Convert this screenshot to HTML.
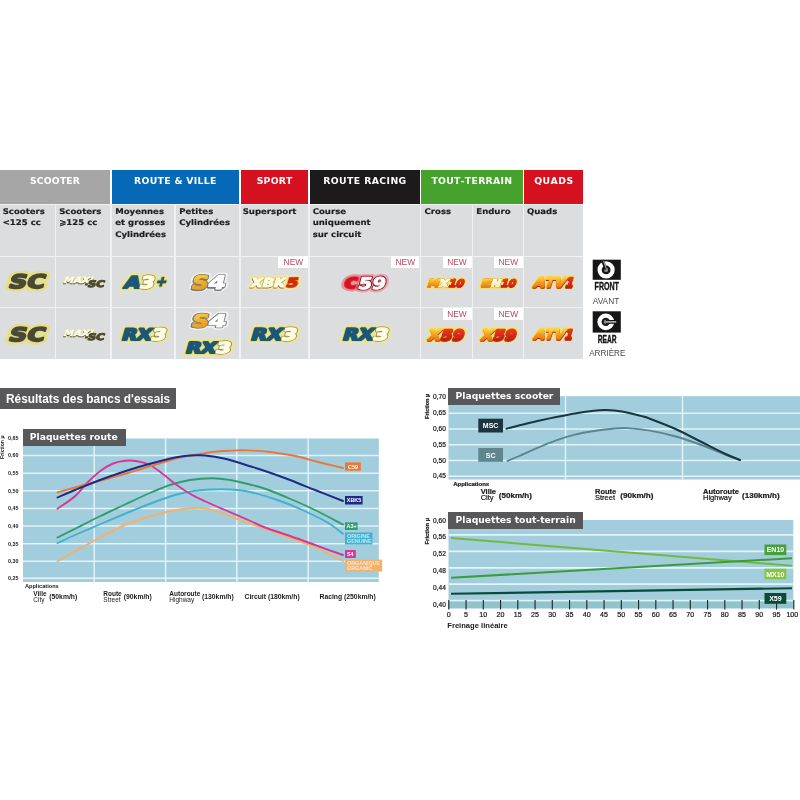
<!DOCTYPE html>
<html lang="fr">
<head>
<meta charset="utf-8">
<title>Plaquettes de frein - gamme</title>
<style>
html,body{margin:0;padding:0;background:#fff;}
body{width:800px;height:800px;position:relative;overflow:hidden;font-family:"Liberation Sans",sans-serif;}
.abs{position:absolute;}
/* table */
.hd{position:absolute;top:170px;height:33.5px;color:#fff;font:bold 9.3px/1 "DejaVu Sans","Liberation Sans",sans-serif;text-align:center;}
.hd span{position:absolute;left:0;right:0;top:6px;font-kerning:none;white-space:nowrap;}
.sub{position:absolute;top:204.5px;height:51px;background:#dcdddf;color:#1e1e1e;font:bold 8.55px/12.5px "DejaVu Sans","Liberation Sans",sans-serif;}
.sub span{position:absolute;left:2.7px;top:1.15px;white-space:nowrap;text-rendering:geometricPrecision;transform:scaleY(0.912);transform-origin:0 0;-webkit-text-stroke:0.2px #1e1e1e;}
.c1{position:absolute;top:256.5px;height:50.5px;background:#dcdddf;}
.c2{position:absolute;top:308px;height:50.5px;background:#dcdddf;}
.new{position:absolute;background:#fff;color:#bd4563;font:8.4px/12.9px "Liberation Sans",sans-serif;text-align:center;height:12.2px;}
.lg{position:absolute;white-space:nowrap;font-family:"DejaVu Sans","Liberation Sans",sans-serif;font-weight:bold;font-style:italic;line-height:1;transform-origin:0 0;}

.sc{color:#4b4a36;text-shadow:0 0 2px #efe15a,0 0 3px #efe15a,0 0 4px #efe15a,1px 0 2px #efe15a,-1px 0 2px #efe15a,0 1px 2px #efe15a,0 -1px 2px #efe15a;-webkit-text-stroke:0.6px #4b4a36;transform:scaleX(1.12);}
.mx{color:#fff;text-shadow:0.7px 0.9px 0 #b9b35a,0 0 2px #f4efb0;transform:scaleX(1.15);}
.mx2{color:#4b4a36;text-shadow:0 0 1.5px #e9e08a;-webkit-text-stroke:0.3px #4b4a36;transform:scaleX(1.15);}
.a3 .b,.rx3 .b{color:#1c5779;-webkit-text-stroke:0.5px #1c5779;}
.a3 .c,.rx3 .c{color:#fffbe6;-webkit-text-stroke:0.5px #fffbe6;}
.a3,.rx3{text-shadow:0 0 1px #e2d23a,0 0 1.5px #e2d23a,0 0 2px #e8dc5a,0 0 3px #f1e88a,0.8px 0.8px 1px #d9c93a,-0.8px 0.8px 1px #d9c93a;transform:scaleX(1.1);}
.s4 .o{color:#eca62c;}
.s4 .wh{color:#fff;}
.s4{text-shadow:-0.8px 1px 0.5px #8e8e90,-1.2px 1.2px 1.5px #a0a0a2,0 0 2px #fff,0 0 3px #fff;-webkit-text-stroke:0.4px;transform:scaleX(1.1);}
.xbk .c{color:#fffbe0;}
.xbk .r{color:#d93a12;}
.xbk{text-shadow:0 0 1px #e9a21e,0.6px 0.8px 0.5px #d98a14,-0.6px 0.8px 0.5px #e9a21e,0 0 2px #f3cf5a,0 0 3px #f6e08a;transform:scaleX(1.12);}
.c59 .r{color:#d3111f;}
.c59 .wh{color:#fff;}
.c59{text-shadow:0 0 1px #d3202c,0 0 2px #d3202c,0 0 3px #e2404c,0 0 4px #ee7078,0 0 5px #f0a0a4;-webkit-text-stroke:0.3px;transform:scaleX(1.1);}
.mx10 .o{color:#ee8a1a;}
.mx10 .y{color:#fff3a0;}
.mx10 .r{color:#d8261a;}
.mx10{text-shadow:0.6px 0.8px 0.5px #b0400e,0 0 1.5px #f3d24a,0 0 2.5px #f4e07a;-webkit-text-stroke:0.4px;transform:scaleX(1.15);}
.atv{color:#f0961c;text-shadow:0.7px 0.9px 0.3px #a8280e,0 -0.6px 0.5px #f8e24a,0 0 2px #f4d86a;-webkit-text-stroke:0.4px #f0961c;transform:scaleX(1.12);}
.x59 .o{color:#f2a81e;}
.x59 .r{color:#d8261a;}
.x59{text-shadow:0.6px 0.8px 0.4px #b8500e,0 0 1.5px #f6dc3a,0 0 2.5px #f6e46a,0 0 3px #f6e88a;-webkit-text-stroke:0.4px;transform:scaleX(1.12);}
.bn{background:#58585a;color:#fff;font:bold 9.2px/16.6px "DejaVu Sans","Liberation Sans",sans-serif;}
.bn span{position:absolute;left:7.6px;top:0;white-space:nowrap;}
</style>
</head>
<body>
<!-- TABLE HEADER -->
<div class="hd" style="left:0;width:110px;background:#a6a6a6"><span style="letter-spacing:0.15px;text-indent:0.15px">SCOOTER</span></div>
<div class="hd" style="left:111.5px;width:127.5px;background:#0669b8"><span style="letter-spacing:0.3px;text-indent:0.3px">ROUTE &amp; VILLE</span></div>
<div class="hd" style="left:240.7px;width:67.8px;background:#d6111f"><span style="letter-spacing:0.2px;text-indent:0.2px">SPORT</span></div>
<div class="hd" style="left:310px;width:109.5px;background:#1c1a1b"><span style="letter-spacing:0.4px;text-indent:0.4px">ROUTE RACING</span></div>
<div class="hd" style="left:421px;width:101.5px;background:#46a22d"><span style="letter-spacing:0.3px;text-indent:0.3px">TOUT-TERRAIN</span></div>
<div class="hd" style="left:524.2px;width:59px;background:#d6111f"><span style="letter-spacing:0.5px;text-indent:0.5px">QUADS</span></div>
<div class="abs" style="left:0;top:204px;width:583.2px;height:155px;background:#f1f1f3"></div>
<!-- SUB HEADER -->
<div class="sub" style="left:0;width:54.7px"></div>
<div class="sub" style="left:55.8px;width:54.7px"></div>
<div class="sub" style="left:111.7px;width:62.8px"></div>
<div class="sub" style="left:175.6px;width:63.4px"></div>
<div class="sub" style="left:240.7px;width:67.8px"></div>
<div class="sub" style="left:310px;width:109.5px"></div>
<div class="sub" style="left:421px;width:50.5px"></div>
<div class="sub" style="left:472.6px;width:50.2px"></div>
<div class="sub" style="left:524.2px;width:59px"></div>
<div class="c1" style="left:0px;width:54.7px"></div>
<div class="c1" style="left:55.8px;width:54.7px"></div>
<div class="c1" style="left:111.7px;width:62.8px"></div>
<div class="c1" style="left:175.6px;width:63.4px"></div>
<div class="c1" style="left:240.7px;width:67.8px"></div>
<div class="c1" style="left:310px;width:109.5px"></div>
<div class="c1" style="left:421px;width:50.5px"></div>
<div class="c1" style="left:472.6px;width:50.2px"></div>
<div class="c1" style="left:524.2px;width:59px"></div>
<div class="c2" style="left:0px;width:54.7px"></div>
<div class="c2" style="left:55.8px;width:54.7px"></div>
<div class="c2" style="left:111.7px;width:62.8px"></div>
<div class="c2" style="left:175.6px;width:63.4px"></div>
<div class="c2" style="left:240.7px;width:67.8px"></div>
<div class="c2" style="left:310px;width:109.5px"></div>
<div class="c2" style="left:421px;width:50.5px"></div>
<div class="c2" style="left:472.6px;width:50.2px"></div>
<div class="c2" style="left:524.2px;width:59px"></div>
<div class="new" style="left:278.3px;top:256.3px;width:30.2px">NEW</div>
<div class="new" style="left:391.2px;top:256.3px;width:28.3px">NEW</div>
<div class="new" style="left:442.5px;top:256.3px;width:29px">NEW</div>
<div class="new" style="left:493.8px;top:256.3px;width:29px">NEW</div>
<div class="new" style="left:442.5px;top:307.5px;width:29px">NEW</div>
<div class="new" style="left:493.8px;top:307.5px;width:29px">NEW</div>

<!--SUBTXT-->
<svg class="abs" style="left:0;top:204px;text-rendering:geometricPrecision" width="584" height="52" viewBox="0 204 584 52">
<g font-family="DejaVu Sans, Liberation Sans, sans-serif" font-weight="bold" font-size="8.55" fill="#1e1e1e" stroke="#1e1e1e" stroke-width="0.2">
<text transform="translate(2.7,214.1) scale(1,0.912)">Scooters</text>
<text transform="translate(2.7,225.4) scale(1,0.912)">&lt;125 cc</text>
<text transform="translate(59.2,214.1) scale(1,0.912)">Scooters</text>
<text transform="translate(59.2,225.4) scale(1,0.912)">⩾125 cc</text>
<text transform="translate(115.2,214.1) scale(1,0.912)">Moyennes</text>
<text transform="translate(115.2,225.4) scale(1,0.912)">et grosses</text>
<text transform="translate(115.2,236.7) scale(1,0.912)">Cylindrées</text>
<text transform="translate(179.2,214.1) scale(1,0.912)">Petites</text>
<text transform="translate(179.2,225.4) scale(1,0.912)">Cylindrées</text>
<text transform="translate(242.7,214.1) scale(1,0.912)">Supersport</text>
<text transform="translate(312.7,214.1) scale(1,0.912)">Course</text>
<text transform="translate(312.7,225.4) scale(1,0.912)">uniquement</text>
<text transform="translate(312.7,236.7) scale(1,0.912)">sur circuit</text>
<text transform="translate(424.6,214.1) scale(1,0.912)">Cross</text>
<text transform="translate(476.3,214.1) scale(1,0.912)">Enduro</text>
<text transform="translate(526.9,214.1) scale(1,0.912)">Quads</text>
</g>
</svg>
<!--/SUBTXT-->
<!--ICONS-->
<svg class="abs" style="left:584px;top:256px" width="60" height="110" viewBox="584 256 60 110">
<rect x="592.7" y="259.7" width="28.1" height="20.1" fill="#161616"/>
<circle cx="606.1" cy="269.9" r="6.5" fill="none" stroke="#fff" stroke-width="4.2"/>
<circle cx="606.1" cy="269.9" r="2.1" fill="#8e8e8e"/>
<line x1="606" y1="269.5" x2="602.3" y2="260" stroke="#161616" stroke-width="3"/>
<line x1="606.6" y1="269.3" x2="603.3" y2="260.6" stroke="#c4c4c4" stroke-width="0.9"/>
<rect x="592.7" y="311.3" width="28.1" height="21.3" fill="#161616"/>
<circle cx="605.8" cy="321.9" r="6.3" fill="none" stroke="#fff" stroke-width="4.2"/>
<circle cx="605.8" cy="321.9" r="2.1" fill="#8e8e8e"/>
<line x1="605.8" y1="321.9" x2="617.5" y2="321.9" stroke="#161616" stroke-width="3.8"/>
<line x1="605.8" y1="321.9" x2="616.2" y2="321.9" stroke="#e6e6e6" stroke-width="1.2"/>
<g font-family="Liberation Sans, sans-serif" fill="#161616">
<text x="594.6" y="289.9" font-size="10.6" font-weight="bold" textLength="24.2" lengthAdjust="spacingAndGlyphs" stroke="#161616" stroke-width="0.4">FRONT</text>
<text x="597.7" y="342.6" font-size="10.6" font-weight="bold" textLength="18.8" lengthAdjust="spacingAndGlyphs" stroke="#161616" stroke-width="0.4">REAR</text>
<text x="592.7" y="303.6" font-size="8.5" fill="#4a4a4a" textLength="26.6" lengthAdjust="spacingAndGlyphs">AVANT</text>
<text x="589.2" y="355.5" font-size="9" fill="#4a4a4a" textLength="36.2" lengthAdjust="spacingAndGlyphs">ARRIÈRE</text>
</g>
</svg>
<!--/ICONS-->
<!--LOGOSVG-->
<svg class="abs" style="left:0;top:256px" width="584" height="104" viewBox="0 256 584 104">
<defs><linearGradient id="gO" x1="0" y1="0" x2="0" y2="1"><stop offset="0.15" stop-color="#fbd648"/><stop offset="0.55" stop-color="#f2981e"/><stop offset="0.95" stop-color="#e26a18"/></linearGradient> <linearGradient id="gS" x1="0" y1="0" x2="0.3" y2="1"><stop offset="0.1" stop-color="#f8d84c"/><stop offset="0.6" stop-color="#f1ad2a"/><stop offset="1" stop-color="#e89a20"/></linearGradient><linearGradient id="gR" x1="0" y1="0" x2="0" y2="1"><stop offset="0.2" stop-color="#e93a20"/><stop offset="0.9" stop-color="#c4161a"/></linearGradient><linearGradient id="gY" x1="0" y1="0" x2="0" y2="1"><stop offset="0.2" stop-color="#ffffff"/><stop offset="0.9" stop-color="#ffec90"/></linearGradient></defs>
<g transform="translate(6.60,289.40) skewX(-16)" font-family="DejaVu Sans, Liberation Sans, sans-serif" font-weight="bold" font-size="18.66" stroke-linejoin="round">
<g opacity="0.8"><text x="0.95" y="-0.95" textLength="17.83" lengthAdjust="spacingAndGlyphs" fill="#e9e074" stroke="#e9e074" stroke-width="7">S</text><text x="18.78" y="-0.95" textLength="17.83" lengthAdjust="spacingAndGlyphs" fill="#e9e074" stroke="#e9e074" stroke-width="7">C</text>
</g><text x="0.95" y="-0.95" textLength="17.83" lengthAdjust="spacingAndGlyphs" fill="#4a4935" stroke="#4a4935" stroke-width="1.9">S</text><text x="18.78" y="-0.95" textLength="17.83" lengthAdjust="spacingAndGlyphs" fill="#4a4935" stroke="#4a4935" stroke-width="1.9">C</text>
</g>
<g transform="translate(62.30,283.20) skewX(-20)" font-family="DejaVu Sans, Liberation Sans, sans-serif" font-weight="bold" font-size="8.37" stroke-linejoin="round">
<g opacity="0.55"><text x="0.25" y="-0.25" textLength="30.00" lengthAdjust="spacingAndGlyphs" fill="#e8e6a6" stroke="#e8e6a6" stroke-width="2.4">MAXI</text>
</g><g transform="translate(0.4,1.2)"><text x="0.25" y="-0.25" textLength="30.00" lengthAdjust="spacingAndGlyphs" fill="#4e4e2a" stroke="#4e4e2a" stroke-width="0.6">MAXI</text>
</g><text x="0.25" y="-0.25" textLength="30.00" lengthAdjust="spacingAndGlyphs" fill="#ffffea" stroke="#ffffea" stroke-width="0.5">MAXI</text>
</g>
<g transform="translate(83.60,287.80) skewX(-16)" font-family="DejaVu Sans, Liberation Sans, sans-serif" font-weight="bold" font-size="9.05" stroke-linejoin="round">
<g opacity="0.6"><text x="0.50" y="-0.50" textLength="2.71" lengthAdjust="spacingAndGlyphs" fill="#e9e4a0" stroke="#e9e4a0" stroke-width="1.9">-</text><text x="3.21" y="-0.50" textLength="16.91" lengthAdjust="spacingAndGlyphs" fill="#e9e4a0" stroke="#e9e4a0" stroke-width="1.9">SC</text>
</g><text x="0.50" y="-0.50" textLength="2.71" lengthAdjust="spacingAndGlyphs" fill="#4a4935" stroke="#4a4935" stroke-width="1.0">-</text><text x="3.21" y="-0.50" textLength="16.91" lengthAdjust="spacingAndGlyphs" fill="#4a4935" stroke="#4a4935" stroke-width="1.0">SC</text>
</g>
<g transform="translate(6.60,342.10) skewX(-16)" font-family="DejaVu Sans, Liberation Sans, sans-serif" font-weight="bold" font-size="18.66" stroke-linejoin="round">
<g opacity="0.8"><text x="0.95" y="-0.95" textLength="17.83" lengthAdjust="spacingAndGlyphs" fill="#e9e074" stroke="#e9e074" stroke-width="7">S</text><text x="18.78" y="-0.95" textLength="17.83" lengthAdjust="spacingAndGlyphs" fill="#e9e074" stroke="#e9e074" stroke-width="7">C</text>
</g><text x="0.95" y="-0.95" textLength="17.83" lengthAdjust="spacingAndGlyphs" fill="#4a4935" stroke="#4a4935" stroke-width="1.9">S</text><text x="18.78" y="-0.95" textLength="17.83" lengthAdjust="spacingAndGlyphs" fill="#4a4935" stroke="#4a4935" stroke-width="1.9">C</text>
</g>
<g transform="translate(62.30,335.90) skewX(-20)" font-family="DejaVu Sans, Liberation Sans, sans-serif" font-weight="bold" font-size="8.37" stroke-linejoin="round">
<g opacity="0.55"><text x="0.25" y="-0.25" textLength="30.00" lengthAdjust="spacingAndGlyphs" fill="#e8e6a6" stroke="#e8e6a6" stroke-width="2.4">MAXI</text>
</g><g transform="translate(0.4,1.2)"><text x="0.25" y="-0.25" textLength="30.00" lengthAdjust="spacingAndGlyphs" fill="#4e4e2a" stroke="#4e4e2a" stroke-width="0.6">MAXI</text>
</g><text x="0.25" y="-0.25" textLength="30.00" lengthAdjust="spacingAndGlyphs" fill="#ffffea" stroke="#ffffea" stroke-width="0.5">MAXI</text>
</g>
<g transform="translate(83.60,340.50) skewX(-16)" font-family="DejaVu Sans, Liberation Sans, sans-serif" font-weight="bold" font-size="9.05" stroke-linejoin="round">
<g opacity="0.6"><text x="0.50" y="-0.50" textLength="2.71" lengthAdjust="spacingAndGlyphs" fill="#e9e4a0" stroke="#e9e4a0" stroke-width="1.9">-</text><text x="3.21" y="-0.50" textLength="16.91" lengthAdjust="spacingAndGlyphs" fill="#e9e4a0" stroke="#e9e4a0" stroke-width="1.9">SC</text>
</g><text x="0.50" y="-0.50" textLength="2.71" lengthAdjust="spacingAndGlyphs" fill="#4a4935" stroke="#4a4935" stroke-width="1.0">-</text><text x="3.21" y="-0.50" textLength="16.91" lengthAdjust="spacingAndGlyphs" fill="#4a4935" stroke="#4a4935" stroke-width="1.0">SC</text>
</g>
<g transform="translate(121.90,289.40) skewX(-16)" font-family="DejaVu Sans, Liberation Sans, sans-serif" font-weight="bold" font-size="16.19" stroke-linejoin="round">
<g opacity="0.75"><text x="1.00" y="-1.00" textLength="15.73" lengthAdjust="spacingAndGlyphs" fill="#ece69a" stroke="#ece69a" stroke-width="7">A</text><text x="16.73" y="-1.00" textLength="14.01" lengthAdjust="spacingAndGlyphs" fill="#ece69a" stroke="#ece69a" stroke-width="7">3</text>
</g><text x="1.00" y="-1.00" textLength="15.73" lengthAdjust="spacingAndGlyphs" fill="#e6da58" stroke="#e6da58" stroke-width="3.4">A</text><text x="16.73" y="-1.00" textLength="14.01" lengthAdjust="spacingAndGlyphs" fill="#9a9038" stroke="#9a9038" stroke-width="3.0">3</text>
<text x="1.00" y="-1.00" textLength="15.73" lengthAdjust="spacingAndGlyphs" fill="#1c5678" stroke="#1c5678" stroke-width="2.0">A</text><text x="16.73" y="-1.00" textLength="14.01" lengthAdjust="spacingAndGlyphs" fill="#fffbe4" stroke="#fffbe4" stroke-width="1.6">3</text>
</g>
<g transform="translate(154.50,286.80) skewX(-16)" font-family="DejaVu Sans, Liberation Sans, sans-serif" font-weight="bold" font-size="13.44" stroke-linejoin="round">
<g opacity="0.7"><text x="0.60" y="-0.60" textLength="10.65" lengthAdjust="spacingAndGlyphs" fill="#f0e890" stroke="#f0e890" stroke-width="4.5">+</text>
</g><text x="0.60" y="-0.60" textLength="10.65" lengthAdjust="spacingAndGlyphs" fill="#dccb34" stroke="#dccb34" stroke-width="2.8">+</text>
<text x="0.60" y="-0.60" textLength="10.65" lengthAdjust="spacingAndGlyphs" fill="#1c5678" stroke="#1c5678" stroke-width="1.2">+</text>
</g>
<g transform="translate(189.80,289.40) skewX(-14)" font-family="DejaVu Sans, Liberation Sans, sans-serif" font-weight="bold" font-size="18.52" stroke-linejoin="round">
<g opacity="0.6"><text x="0.55" y="-0.55" textLength="16.61" lengthAdjust="spacingAndGlyphs" fill="#ffffff" stroke="#ffffff" stroke-width="5.5">S</text><text x="17.16" y="-0.55" textLength="17.45" lengthAdjust="spacingAndGlyphs" fill="#ffffff" stroke="#ffffff" stroke-width="5.5">4</text>
</g><text x="0.55" y="-0.55" textLength="16.61" lengthAdjust="spacingAndGlyphs" fill="#8a7a3a" stroke="#8a7a3a" stroke-width="2.6">S</text><text x="17.16" y="-0.55" textLength="17.45" lengthAdjust="spacingAndGlyphs" fill="#8a8c90" stroke="#8a8c90" stroke-width="2.6">4</text>
<g transform="translate(-0.4,0.7)"><text x="0.55" y="-0.55" textLength="16.61" lengthAdjust="spacingAndGlyphs" fill="#77797c" stroke="#77797c" stroke-width="2.2">S</text><text x="17.16" y="-0.55" textLength="17.45" lengthAdjust="spacingAndGlyphs" fill="#77797c" stroke="#77797c" stroke-width="2.2">4</text>
</g><text x="0.55" y="-0.55" textLength="16.61" lengthAdjust="spacingAndGlyphs" fill="url(#gS)" stroke="url(#gS)" stroke-width="1.1">S</text><text x="17.16" y="-0.55" textLength="17.45" lengthAdjust="spacingAndGlyphs" fill="#ffffff" stroke="#ffffff" stroke-width="1.1">4</text>
</g>
<g transform="translate(249.30,287.50) skewX(-16)" font-family="DejaVu Sans, Liberation Sans, sans-serif" font-weight="bold" font-size="12.48" stroke-linejoin="round">
<g opacity="0.85"><text x="0.60" y="-0.60" textLength="34.05" lengthAdjust="spacingAndGlyphs" fill="#f5e9a6" stroke="#f5e9a6" stroke-width="5.5">XBK</text>
</g><text x="0.60" y="-0.60" textLength="34.05" lengthAdjust="spacingAndGlyphs" fill="#d9b84a" stroke="#d9b84a" stroke-width="2.2">XBK</text>
<g transform="translate(-0.35,0.6)"><text x="0.60" y="-0.60" textLength="34.05" lengthAdjust="spacingAndGlyphs" fill="#8f7a2c" stroke="#8f7a2c" stroke-width="1.2">XBK</text>
</g><text x="0.60" y="-0.60" textLength="34.05" lengthAdjust="spacingAndGlyphs" fill="#fffbe2" stroke="#fffbe2" stroke-width="1.2">XBK</text>
</g>
<g transform="translate(284.80,287.50) skewX(-16)" font-family="DejaVu Sans, Liberation Sans, sans-serif" font-weight="bold" font-size="12.48" stroke-linejoin="round">
<g opacity="0.85"><text x="0.60" y="-0.60" textLength="11.65" lengthAdjust="spacingAndGlyphs" fill="#f5e9a6" stroke="#f5e9a6" stroke-width="5.5">5</text>
</g><text x="0.60" y="-0.60" textLength="11.65" lengthAdjust="spacingAndGlyphs" fill="#f0a23a" stroke="#f0a23a" stroke-width="2.4">5</text>
<text x="0.60" y="-0.60" textLength="11.65" lengthAdjust="spacingAndGlyphs" fill="#cf2a0e" stroke="#cf2a0e" stroke-width="1.2">5</text>
</g>
<g transform="translate(342.80,288.80) skewX(-14)" font-family="DejaVu Sans, Liberation Sans, sans-serif" font-weight="bold" font-size="14.13" stroke-linejoin="round">
<g opacity="0.55"><text x="0.65" y="-0.65" textLength="13.51" lengthAdjust="spacingAndGlyphs" fill="#ea5a66" stroke="#ea5a66" stroke-width="6.5">C</text>
</g><text x="0.65" y="-0.65" textLength="13.51" lengthAdjust="spacingAndGlyphs" fill="#e3353f" stroke="#e3353f" stroke-width="2.6">C</text>
<text x="0.65" y="-0.65" textLength="13.51" lengthAdjust="spacingAndGlyphs" fill="#d31422" stroke="#d31422" stroke-width="1.3">C</text>
</g>
<g transform="translate(356.80,289.80) skewX(-14)" font-family="DejaVu Sans, Liberation Sans, sans-serif" font-weight="bold" font-size="16.32" stroke-linejoin="round">
<g opacity="0.55"><text x="0.45" y="-0.45" textLength="27.11" lengthAdjust="spacingAndGlyphs" fill="#f0808a" stroke="#f0808a" stroke-width="6.5">59</text>
</g><text x="0.45" y="-0.45" textLength="27.11" lengthAdjust="spacingAndGlyphs" fill="#9a1726" stroke="#9a1726" stroke-width="2.7">59</text>
<text x="0.45" y="-0.45" textLength="27.11" lengthAdjust="spacingAndGlyphs" fill="#ffffff" stroke="#ffffff" stroke-width="0.9">59</text>
</g>
<g transform="translate(426.20,287.20) skewX(-18)" font-family="DejaVu Sans, Liberation Sans, sans-serif" font-weight="bold" font-size="10.49" stroke-linejoin="round">
<g opacity="0.6"><text x="0.57" y="-0.57" textLength="11.33" lengthAdjust="spacingAndGlyphs" fill="#f6e47a" stroke="#f6e47a" stroke-width="4.8">M</text><text x="11.91" y="-0.57" textLength="9.44" lengthAdjust="spacingAndGlyphs" fill="#f6e47a" stroke="#f6e47a" stroke-width="4.8">X</text><text x="21.35" y="-0.57" textLength="15.11" lengthAdjust="spacingAndGlyphs" fill="#f6e47a" stroke="#f6e47a" stroke-width="4.8">10</text>
</g><text x="0.57" y="-0.57" textLength="11.33" lengthAdjust="spacingAndGlyphs" fill="#f4d648" stroke="#f4d648" stroke-width="2.6">M</text><text x="11.91" y="-0.57" textLength="9.44" lengthAdjust="spacingAndGlyphs" fill="#f4d648" stroke="#f4d648" stroke-width="2.6">X</text><text x="21.35" y="-0.57" textLength="15.11" lengthAdjust="spacingAndGlyphs" fill="#f4d648" stroke="#f4d648" stroke-width="2.6">10</text>
<g transform="translate(0.4,0.7)"><text x="0.57" y="-0.57" textLength="11.33" lengthAdjust="spacingAndGlyphs" fill="#a33a0e" stroke="#a33a0e" stroke-width="1.15">M</text><text x="11.91" y="-0.57" textLength="9.44" lengthAdjust="spacingAndGlyphs" fill="#a33a0e" stroke="#a33a0e" stroke-width="1.15">X</text><text x="21.35" y="-0.57" textLength="15.11" lengthAdjust="spacingAndGlyphs" fill="#a33a0e" stroke="#a33a0e" stroke-width="1.15">10</text>
</g><text x="0.57" y="-0.57" textLength="11.33" lengthAdjust="spacingAndGlyphs" fill="url(#gO)" stroke="url(#gO)" stroke-width="1.15">M</text><text x="11.91" y="-0.57" textLength="9.44" lengthAdjust="spacingAndGlyphs" fill="url(#gY)" stroke="url(#gY)" stroke-width="1.15">X</text><text x="21.35" y="-0.57" textLength="15.11" lengthAdjust="spacingAndGlyphs" fill="url(#gR)" stroke="url(#gR)" stroke-width="1.15">10</text>
</g>
<g transform="translate(479.50,287.20) skewX(-18)" font-family="DejaVu Sans, Liberation Sans, sans-serif" font-weight="bold" font-size="10.49" stroke-linejoin="round">
<g opacity="0.6"><text x="0.57" y="-0.57" textLength="10.12" lengthAdjust="spacingAndGlyphs" fill="#f6e47a" stroke="#f6e47a" stroke-width="4.8">E</text><text x="10.69" y="-0.57" textLength="9.66" lengthAdjust="spacingAndGlyphs" fill="#f6e47a" stroke="#f6e47a" stroke-width="4.8">N</text><text x="20.35" y="-0.57" textLength="14.72" lengthAdjust="spacingAndGlyphs" fill="#f6e47a" stroke="#f6e47a" stroke-width="4.8">10</text>
</g><text x="0.57" y="-0.57" textLength="10.12" lengthAdjust="spacingAndGlyphs" fill="#f4d648" stroke="#f4d648" stroke-width="2.6">E</text><text x="10.69" y="-0.57" textLength="9.66" lengthAdjust="spacingAndGlyphs" fill="#f4d648" stroke="#f4d648" stroke-width="2.6">N</text><text x="20.35" y="-0.57" textLength="14.72" lengthAdjust="spacingAndGlyphs" fill="#f4d648" stroke="#f4d648" stroke-width="2.6">10</text>
<g transform="translate(0.4,0.7)"><text x="0.57" y="-0.57" textLength="10.12" lengthAdjust="spacingAndGlyphs" fill="#a33a0e" stroke="#a33a0e" stroke-width="1.15">E</text><text x="10.69" y="-0.57" textLength="9.66" lengthAdjust="spacingAndGlyphs" fill="#a33a0e" stroke="#a33a0e" stroke-width="1.15">N</text><text x="20.35" y="-0.57" textLength="14.72" lengthAdjust="spacingAndGlyphs" fill="#a33a0e" stroke="#a33a0e" stroke-width="1.15">10</text>
</g><text x="0.57" y="-0.57" textLength="10.12" lengthAdjust="spacingAndGlyphs" fill="url(#gO)" stroke="url(#gO)" stroke-width="1.15">E</text><text x="10.69" y="-0.57" textLength="9.66" lengthAdjust="spacingAndGlyphs" fill="url(#gY)" stroke="url(#gY)" stroke-width="1.15">N</text><text x="20.35" y="-0.57" textLength="14.72" lengthAdjust="spacingAndGlyphs" fill="url(#gR)" stroke="url(#gR)" stroke-width="1.15">10</text>
</g>
<g transform="translate(531.80,287.80) skewX(-18)" font-family="DejaVu Sans, Liberation Sans, sans-serif" font-weight="bold" font-size="13.17" stroke-linejoin="round">
<g opacity="0.6"><text x="0.70" y="-0.70" textLength="11.10" lengthAdjust="spacingAndGlyphs" fill="#f6e27a" stroke="#f6e27a" stroke-width="4.5">A</text><text x="11.80" y="-0.70" textLength="9.51" lengthAdjust="spacingAndGlyphs" fill="#f6e27a" stroke="#f6e27a" stroke-width="4.5">T</text><text x="21.31" y="-0.70" textLength="11.10" lengthAdjust="spacingAndGlyphs" fill="#f6e27a" stroke="#f6e27a" stroke-width="4.5">V</text><text x="32.40" y="-0.70" textLength="7.93" lengthAdjust="spacingAndGlyphs" fill="#f6e27a" stroke="#f6e27a" stroke-width="4.5">1</text>
</g><text x="0.70" y="-0.70" textLength="11.10" lengthAdjust="spacingAndGlyphs" fill="#f6d84a" stroke="#f6d84a" stroke-width="2.8">A</text><text x="11.80" y="-0.70" textLength="9.51" lengthAdjust="spacingAndGlyphs" fill="#f6d84a" stroke="#f6d84a" stroke-width="2.8">T</text><text x="21.31" y="-0.70" textLength="11.10" lengthAdjust="spacingAndGlyphs" fill="#f6d84a" stroke="#f6d84a" stroke-width="2.8">V</text><text x="32.40" y="-0.70" textLength="7.93" lengthAdjust="spacingAndGlyphs" fill="#f6d84a" stroke="#f6d84a" stroke-width="2.8">1</text>
<g transform="translate(0.5,0.9)"><text x="0.70" y="-0.70" textLength="11.10" lengthAdjust="spacingAndGlyphs" fill="#a3260e" stroke="#a3260e" stroke-width="1.4">A</text><text x="11.80" y="-0.70" textLength="9.51" lengthAdjust="spacingAndGlyphs" fill="#a3260e" stroke="#a3260e" stroke-width="1.4">T</text><text x="21.31" y="-0.70" textLength="11.10" lengthAdjust="spacingAndGlyphs" fill="#a3260e" stroke="#a3260e" stroke-width="1.4">V</text><text x="32.40" y="-0.70" textLength="7.93" lengthAdjust="spacingAndGlyphs" fill="#a3260e" stroke="#a3260e" stroke-width="1.4">1</text>
</g><text x="0.70" y="-0.70" textLength="11.10" lengthAdjust="spacingAndGlyphs" fill="url(#gO)" stroke="url(#gO)" stroke-width="1.4">A</text><text x="11.80" y="-0.70" textLength="9.51" lengthAdjust="spacingAndGlyphs" fill="url(#gO)" stroke="url(#gO)" stroke-width="1.4">T</text><text x="21.31" y="-0.70" textLength="11.10" lengthAdjust="spacingAndGlyphs" fill="url(#gO)" stroke="url(#gO)" stroke-width="1.4">V</text><text x="32.40" y="-0.70" textLength="7.93" lengthAdjust="spacingAndGlyphs" fill="url(#gR)" stroke="url(#gR)" stroke-width="1.4">1</text>
</g>
<g transform="translate(119.60,341.00) skewX(-16)" font-family="DejaVu Sans, Liberation Sans, sans-serif" font-weight="bold" font-size="15.78" stroke-linejoin="round">
<g opacity="0.75"><text x="1.00" y="-1.00" textLength="14.94" lengthAdjust="spacingAndGlyphs" fill="#ece69a" stroke="#ece69a" stroke-width="7">R</text><text x="15.94" y="-1.00" textLength="14.64" lengthAdjust="spacingAndGlyphs" fill="#ece69a" stroke="#ece69a" stroke-width="7">X</text><text x="30.58" y="-1.00" textLength="14.35" lengthAdjust="spacingAndGlyphs" fill="#ece69a" stroke="#ece69a" stroke-width="7">3</text>
</g><text x="1.00" y="-1.00" textLength="14.94" lengthAdjust="spacingAndGlyphs" fill="#e6da58" stroke="#e6da58" stroke-width="3.4">R</text><text x="15.94" y="-1.00" textLength="14.64" lengthAdjust="spacingAndGlyphs" fill="#e6da58" stroke="#e6da58" stroke-width="3.4">X</text><text x="30.58" y="-1.00" textLength="14.35" lengthAdjust="spacingAndGlyphs" fill="#9a9038" stroke="#9a9038" stroke-width="3.0">3</text>
<text x="1.00" y="-1.00" textLength="14.94" lengthAdjust="spacingAndGlyphs" fill="#1c5678" stroke="#1c5678" stroke-width="2.0">R</text><text x="15.94" y="-1.00" textLength="14.64" lengthAdjust="spacingAndGlyphs" fill="#1c5678" stroke="#1c5678" stroke-width="2.0">X</text><text x="30.58" y="-1.00" textLength="14.35" lengthAdjust="spacingAndGlyphs" fill="#fffbe4" stroke="#fffbe4" stroke-width="1.6">3</text>
</g>
<g transform="translate(190.00,327.30) skewX(-14)" font-family="DejaVu Sans, Liberation Sans, sans-serif" font-weight="bold" font-size="17.42" stroke-linejoin="round">
<g opacity="0.6"><text x="0.55" y="-0.55" textLength="16.81" lengthAdjust="spacingAndGlyphs" fill="#ffffff" stroke="#ffffff" stroke-width="5.5">S</text><text x="17.36" y="-0.55" textLength="17.65" lengthAdjust="spacingAndGlyphs" fill="#ffffff" stroke="#ffffff" stroke-width="5.5">4</text>
</g><text x="0.55" y="-0.55" textLength="16.81" lengthAdjust="spacingAndGlyphs" fill="#8a7a3a" stroke="#8a7a3a" stroke-width="2.6">S</text><text x="17.36" y="-0.55" textLength="17.65" lengthAdjust="spacingAndGlyphs" fill="#8a8c90" stroke="#8a8c90" stroke-width="2.6">4</text>
<g transform="translate(-0.4,0.7)"><text x="0.55" y="-0.55" textLength="16.81" lengthAdjust="spacingAndGlyphs" fill="#77797c" stroke="#77797c" stroke-width="2.2">S</text><text x="17.36" y="-0.55" textLength="17.65" lengthAdjust="spacingAndGlyphs" fill="#77797c" stroke="#77797c" stroke-width="2.2">4</text>
</g><text x="0.55" y="-0.55" textLength="16.81" lengthAdjust="spacingAndGlyphs" fill="url(#gS)" stroke="url(#gS)" stroke-width="1.1">S</text><text x="17.36" y="-0.55" textLength="17.65" lengthAdjust="spacingAndGlyphs" fill="#ffffff" stroke="#ffffff" stroke-width="1.1">4</text>
</g>
<g transform="translate(183.60,354.00) skewX(-16)" font-family="DejaVu Sans, Liberation Sans, sans-serif" font-weight="bold" font-size="15.09" stroke-linejoin="round">
<g opacity="0.75"><text x="1.00" y="-1.00" textLength="15.19" lengthAdjust="spacingAndGlyphs" fill="#ece69a" stroke="#ece69a" stroke-width="7">R</text><text x="16.19" y="-1.00" textLength="14.89" lengthAdjust="spacingAndGlyphs" fill="#ece69a" stroke="#ece69a" stroke-width="7">X</text><text x="31.08" y="-1.00" textLength="14.59" lengthAdjust="spacingAndGlyphs" fill="#ece69a" stroke="#ece69a" stroke-width="7">3</text>
</g><text x="1.00" y="-1.00" textLength="15.19" lengthAdjust="spacingAndGlyphs" fill="#e6da58" stroke="#e6da58" stroke-width="3.4">R</text><text x="16.19" y="-1.00" textLength="14.89" lengthAdjust="spacingAndGlyphs" fill="#e6da58" stroke="#e6da58" stroke-width="3.4">X</text><text x="31.08" y="-1.00" textLength="14.59" lengthAdjust="spacingAndGlyphs" fill="#9a9038" stroke="#9a9038" stroke-width="3.0">3</text>
<text x="1.00" y="-1.00" textLength="15.19" lengthAdjust="spacingAndGlyphs" fill="#1c5678" stroke="#1c5678" stroke-width="2.0">R</text><text x="16.19" y="-1.00" textLength="14.89" lengthAdjust="spacingAndGlyphs" fill="#1c5678" stroke="#1c5678" stroke-width="2.0">X</text><text x="31.08" y="-1.00" textLength="14.59" lengthAdjust="spacingAndGlyphs" fill="#fffbe4" stroke="#fffbe4" stroke-width="1.6">3</text>
</g>
<g transform="translate(249.00,341.20) skewX(-16)" font-family="DejaVu Sans, Liberation Sans, sans-serif" font-weight="bold" font-size="16.19" stroke-linejoin="round">
<g opacity="0.75"><text x="1.00" y="-1.00" textLength="15.38" lengthAdjust="spacingAndGlyphs" fill="#ece69a" stroke="#ece69a" stroke-width="7">R</text><text x="16.38" y="-1.00" textLength="15.08" lengthAdjust="spacingAndGlyphs" fill="#ece69a" stroke="#ece69a" stroke-width="7">X</text><text x="31.46" y="-1.00" textLength="14.78" lengthAdjust="spacingAndGlyphs" fill="#ece69a" stroke="#ece69a" stroke-width="7">3</text>
</g><text x="1.00" y="-1.00" textLength="15.38" lengthAdjust="spacingAndGlyphs" fill="#e6da58" stroke="#e6da58" stroke-width="3.4">R</text><text x="16.38" y="-1.00" textLength="15.08" lengthAdjust="spacingAndGlyphs" fill="#e6da58" stroke="#e6da58" stroke-width="3.4">X</text><text x="31.46" y="-1.00" textLength="14.78" lengthAdjust="spacingAndGlyphs" fill="#9a9038" stroke="#9a9038" stroke-width="3.0">3</text>
<text x="1.00" y="-1.00" textLength="15.38" lengthAdjust="spacingAndGlyphs" fill="#1c5678" stroke="#1c5678" stroke-width="2.0">R</text><text x="16.38" y="-1.00" textLength="15.08" lengthAdjust="spacingAndGlyphs" fill="#1c5678" stroke="#1c5678" stroke-width="2.0">X</text><text x="31.46" y="-1.00" textLength="14.78" lengthAdjust="spacingAndGlyphs" fill="#fffbe4" stroke="#fffbe4" stroke-width="1.6">3</text>
</g>
<g transform="translate(340.60,341.20) skewX(-16)" font-family="DejaVu Sans, Liberation Sans, sans-serif" font-weight="bold" font-size="16.19" stroke-linejoin="round">
<g opacity="0.75"><text x="1.00" y="-1.00" textLength="15.31" lengthAdjust="spacingAndGlyphs" fill="#ece69a" stroke="#ece69a" stroke-width="7">R</text><text x="16.31" y="-1.00" textLength="15.01" lengthAdjust="spacingAndGlyphs" fill="#ece69a" stroke="#ece69a" stroke-width="7">X</text><text x="31.33" y="-1.00" textLength="14.71" lengthAdjust="spacingAndGlyphs" fill="#ece69a" stroke="#ece69a" stroke-width="7">3</text>
</g><text x="1.00" y="-1.00" textLength="15.31" lengthAdjust="spacingAndGlyphs" fill="#e6da58" stroke="#e6da58" stroke-width="3.4">R</text><text x="16.31" y="-1.00" textLength="15.01" lengthAdjust="spacingAndGlyphs" fill="#e6da58" stroke="#e6da58" stroke-width="3.4">X</text><text x="31.33" y="-1.00" textLength="14.71" lengthAdjust="spacingAndGlyphs" fill="#9a9038" stroke="#9a9038" stroke-width="3.0">3</text>
<text x="1.00" y="-1.00" textLength="15.31" lengthAdjust="spacingAndGlyphs" fill="#1c5678" stroke="#1c5678" stroke-width="2.0">R</text><text x="16.31" y="-1.00" textLength="15.01" lengthAdjust="spacingAndGlyphs" fill="#1c5678" stroke="#1c5678" stroke-width="2.0">X</text><text x="31.33" y="-1.00" textLength="14.71" lengthAdjust="spacingAndGlyphs" fill="#fffbe4" stroke="#fffbe4" stroke-width="1.6">3</text>
</g>
<g transform="translate(426.30,340.60) skewX(-16)" font-family="DejaVu Sans, Liberation Sans, sans-serif" font-weight="bold" font-size="14.40" stroke-linejoin="round">
<g opacity="0.65"><text x="0.75" y="-0.75" textLength="12.24" lengthAdjust="spacingAndGlyphs" fill="#f6e67a" stroke="#f6e67a" stroke-width="5.5">X</text><text x="12.99" y="-0.75" textLength="23.32" lengthAdjust="spacingAndGlyphs" fill="#f6e67a" stroke="#f6e67a" stroke-width="5.5">59</text>
</g><text x="0.75" y="-0.75" textLength="12.24" lengthAdjust="spacingAndGlyphs" fill="#f6dc3e" stroke="#f6dc3e" stroke-width="3.2">X</text><text x="12.99" y="-0.75" textLength="23.32" lengthAdjust="spacingAndGlyphs" fill="#f6dc3e" stroke="#f6dc3e" stroke-width="3.2">59</text>
<g transform="translate(0.4,0.9)"><text x="0.75" y="-0.75" textLength="12.24" lengthAdjust="spacingAndGlyphs" fill="#a8400e" stroke="#a8400e" stroke-width="1.5">X</text><text x="12.99" y="-0.75" textLength="23.32" lengthAdjust="spacingAndGlyphs" fill="#a8400e" stroke="#a8400e" stroke-width="1.5">59</text>
</g><text x="0.75" y="-0.75" textLength="12.24" lengthAdjust="spacingAndGlyphs" fill="url(#gO)" stroke="url(#gO)" stroke-width="1.5">X</text><text x="12.99" y="-0.75" textLength="23.32" lengthAdjust="spacingAndGlyphs" fill="url(#gR)" stroke="url(#gR)" stroke-width="1.5">59</text>
</g>
<g transform="translate(479.30,340.60) skewX(-16)" font-family="DejaVu Sans, Liberation Sans, sans-serif" font-weight="bold" font-size="14.40" stroke-linejoin="round">
<g opacity="0.65"><text x="0.75" y="-0.75" textLength="11.97" lengthAdjust="spacingAndGlyphs" fill="#f6e67a" stroke="#f6e67a" stroke-width="5.5">X</text><text x="12.72" y="-0.75" textLength="22.79" lengthAdjust="spacingAndGlyphs" fill="#f6e67a" stroke="#f6e67a" stroke-width="5.5">59</text>
</g><text x="0.75" y="-0.75" textLength="11.97" lengthAdjust="spacingAndGlyphs" fill="#f6dc3e" stroke="#f6dc3e" stroke-width="3.2">X</text><text x="12.72" y="-0.75" textLength="22.79" lengthAdjust="spacingAndGlyphs" fill="#f6dc3e" stroke="#f6dc3e" stroke-width="3.2">59</text>
<g transform="translate(0.4,0.9)"><text x="0.75" y="-0.75" textLength="11.97" lengthAdjust="spacingAndGlyphs" fill="#a8400e" stroke="#a8400e" stroke-width="1.5">X</text><text x="12.72" y="-0.75" textLength="22.79" lengthAdjust="spacingAndGlyphs" fill="#a8400e" stroke="#a8400e" stroke-width="1.5">59</text>
</g><text x="0.75" y="-0.75" textLength="11.97" lengthAdjust="spacingAndGlyphs" fill="url(#gO)" stroke="url(#gO)" stroke-width="1.5">X</text><text x="12.72" y="-0.75" textLength="22.79" lengthAdjust="spacingAndGlyphs" fill="url(#gR)" stroke="url(#gR)" stroke-width="1.5">59</text>
</g>
<g transform="translate(532.20,339.80) skewX(-18)" font-family="DejaVu Sans, Liberation Sans, sans-serif" font-weight="bold" font-size="13.44" stroke-linejoin="round">
<g opacity="0.6"><text x="0.70" y="-0.70" textLength="10.74" lengthAdjust="spacingAndGlyphs" fill="#f6e27a" stroke="#f6e27a" stroke-width="4.5">A</text><text x="11.44" y="-0.70" textLength="9.21" lengthAdjust="spacingAndGlyphs" fill="#f6e27a" stroke="#f6e27a" stroke-width="4.5">T</text><text x="20.65" y="-0.70" textLength="10.74" lengthAdjust="spacingAndGlyphs" fill="#f6e27a" stroke="#f6e27a" stroke-width="4.5">V</text><text x="31.39" y="-0.70" textLength="7.67" lengthAdjust="spacingAndGlyphs" fill="#f6e27a" stroke="#f6e27a" stroke-width="4.5">1</text>
</g><text x="0.70" y="-0.70" textLength="10.74" lengthAdjust="spacingAndGlyphs" fill="#f6d84a" stroke="#f6d84a" stroke-width="2.8">A</text><text x="11.44" y="-0.70" textLength="9.21" lengthAdjust="spacingAndGlyphs" fill="#f6d84a" stroke="#f6d84a" stroke-width="2.8">T</text><text x="20.65" y="-0.70" textLength="10.74" lengthAdjust="spacingAndGlyphs" fill="#f6d84a" stroke="#f6d84a" stroke-width="2.8">V</text><text x="31.39" y="-0.70" textLength="7.67" lengthAdjust="spacingAndGlyphs" fill="#f6d84a" stroke="#f6d84a" stroke-width="2.8">1</text>
<g transform="translate(0.5,0.9)"><text x="0.70" y="-0.70" textLength="10.74" lengthAdjust="spacingAndGlyphs" fill="#a3260e" stroke="#a3260e" stroke-width="1.4">A</text><text x="11.44" y="-0.70" textLength="9.21" lengthAdjust="spacingAndGlyphs" fill="#a3260e" stroke="#a3260e" stroke-width="1.4">T</text><text x="20.65" y="-0.70" textLength="10.74" lengthAdjust="spacingAndGlyphs" fill="#a3260e" stroke="#a3260e" stroke-width="1.4">V</text><text x="31.39" y="-0.70" textLength="7.67" lengthAdjust="spacingAndGlyphs" fill="#a3260e" stroke="#a3260e" stroke-width="1.4">1</text>
</g><text x="0.70" y="-0.70" textLength="10.74" lengthAdjust="spacingAndGlyphs" fill="url(#gO)" stroke="url(#gO)" stroke-width="1.4">A</text><text x="11.44" y="-0.70" textLength="9.21" lengthAdjust="spacingAndGlyphs" fill="url(#gO)" stroke="url(#gO)" stroke-width="1.4">T</text><text x="20.65" y="-0.70" textLength="10.74" lengthAdjust="spacingAndGlyphs" fill="url(#gO)" stroke="url(#gO)" stroke-width="1.4">V</text><text x="31.39" y="-0.70" textLength="7.67" lengthAdjust="spacingAndGlyphs" fill="url(#gR)" stroke="url(#gR)" stroke-width="1.4">1</text>
</g>
</svg>
<!--/LOGOSVG-->
<svg class="abs" style="left:0;top:380px" width="400" height="260" viewBox="0 380 400 260">
<rect x="23" y="438.5" width="355.8" height="143.5" fill="#a2cddc"/>
<line x1="23" x2="378.8" y1="455.5" y2="455.5" stroke="#e1f4fa" stroke-width="1.45"/>
<line x1="23" x2="378.8" y1="473.2" y2="473.2" stroke="#e1f4fa" stroke-width="1.45"/>
<line x1="23" x2="378.8" y1="490.8" y2="490.8" stroke="#e1f4fa" stroke-width="1.45"/>
<line x1="23" x2="378.8" y1="508.5" y2="508.5" stroke="#e1f4fa" stroke-width="1.45"/>
<line x1="23" x2="378.8" y1="526" y2="526" stroke="#e1f4fa" stroke-width="1.45"/>
<line x1="23" x2="378.8" y1="543.7" y2="543.7" stroke="#e1f4fa" stroke-width="1.45"/>
<line x1="23" x2="378.8" y1="561.3" y2="561.3" stroke="#e1f4fa" stroke-width="1.45"/>
<line x1="23" x2="378.8" y1="578.3" y2="578.3" stroke="#e1f4fa" stroke-width="1.45"/>
<line x1="94.2" x2="94.2" y1="438.5" y2="582" stroke="#e1f4fa" stroke-width="1.45"/>
<line x1="165.6" x2="165.6" y1="438.5" y2="582" stroke="#e1f4fa" stroke-width="1.45"/>
<line x1="236.8" x2="236.8" y1="438.5" y2="582" stroke="#e1f4fa" stroke-width="1.45"/>
<line x1="308.2" x2="308.2" y1="438.5" y2="582" stroke="#e1f4fa" stroke-width="1.45"/>
<path d="M57.5,561.25 C60.4,559.6 67.9,555.2 75,551.25 C82.1,547.3 91.7,541.9 100,537.5 C108.3,533.1 116.7,528.5 125,525 C133.3,521.5 142.5,518.5 150,516.25 C157.5,514.0 163.3,512.6 170,511.25 C176.7,509.9 184.2,508.8 190,508.25 C195.8,507.8 200.0,507.5 205,508.25 C210.0,509.0 214.2,510.5 220,512.5 C225.8,514.5 232.5,517.3 240,520 C247.5,522.7 256.7,525.8 265,528.75 C273.3,531.8 281.7,534.9 290,538 C298.3,541.1 306.2,543.7 315,547.5 C323.8,551.3 338.3,558.8 343,561" fill="none" stroke="#f3b26c" stroke-width="1.9" stroke-linecap="round"/>
<path d="M57.5,543 C60.4,541.7 67.9,538.1 75,535 C82.1,531.9 91.7,527.8 100,524.25 C108.3,520.7 116.7,517.2 125,513.75 C133.3,510.3 141.7,506.9 150,503.75 C158.3,500.6 167.5,497.2 175,495 C182.5,492.8 187.5,491.7 195,490.75 C202.5,489.8 212.9,489.4 220,489.25 C227.1,489.1 232.1,489.5 237.5,490 C242.9,490.5 245.8,490.8 252.5,492.5 C259.2,494.2 269.2,497.1 277.5,500 C285.8,502.9 294.2,506.2 302.5,510 C310.8,513.8 320.8,518.5 327.5,522.5 C334.2,526.5 340.4,531.9 343,533.75" fill="none" stroke="#3fb2cf" stroke-width="1.9" stroke-linecap="round"/>
<path d="M57.5,537.5 C60.4,536.0 67.9,532.3 75,528.75 C82.1,525.2 91.7,520.3 100,516.25 C108.3,512.2 116.7,508.4 125,504.5 C133.3,500.6 142.5,496.2 150,493 C157.5,489.8 163.3,487.2 170,485 C176.7,482.8 182.9,481.1 190,480 C197.1,478.9 205.8,478.2 212.5,478.25 C219.2,478.2 223.8,479.0 230,480 C236.2,481.0 244.2,483.0 250,484.5 C255.8,486.0 258.3,486.4 265,488.75 C271.7,491.1 281.7,495.2 290,498.75 C298.3,502.3 306.2,505.7 315,510 C323.8,514.3 338.3,522.1 343,524.5" fill="none" stroke="#2f9e6e" stroke-width="1.9" stroke-linecap="round"/>
<path d="M57.5,508.75 C60.4,506.7 70.0,500.6 75,496.25 C80.0,491.9 83.3,486.7 87.5,482.5 C91.7,478.3 95.8,474.4 100,471.25 C104.2,468.1 108.3,465.5 112.5,463.75 C116.7,462.0 120.8,461.2 125,460.75 C129.2,460.3 133.3,460.5 137.5,461.25 C141.7,462.0 145.8,462.9 150,465 C154.2,467.1 158.3,470.6 162.5,473.75 C166.7,476.9 170.4,480.4 175,483.75 C179.6,487.1 185.0,490.8 190,493.75 C195.0,496.7 199.2,498.5 205,501.25 C210.8,504.0 217.5,506.8 225,510 C232.5,513.2 243.3,517.8 250,520.75 C256.7,523.7 258.3,525.0 265,527.5 C271.7,530.0 281.7,533.1 290,536 C298.3,538.9 306.2,541.8 315,545 C323.8,548.2 338.3,553.3 343,555" fill="none" stroke="#d6369a" stroke-width="1.9" stroke-linecap="round"/>
<path d="M57.5,492.5 C60.4,491.7 67.9,489.5 75,487.5 C82.1,485.5 91.7,483.0 100,480.75 C108.3,478.5 116.7,476.2 125,473.75 C133.3,471.3 141.7,468.8 150,466.25 C158.3,463.8 168.3,460.5 175,458.75 C181.7,457.0 183.8,456.9 190,455.75 C196.2,454.6 205.5,452.9 212.5,452 C219.5,451.1 226.1,450.9 232,450.6 C237.9,450.3 241.7,450.2 248,450.4 C254.3,450.6 263.0,451.2 270,452 C277.0,452.8 284.7,454.1 290,455 C295.3,455.9 297.8,456.5 302,457.5 C306.2,458.5 310.7,460.0 315,461.2 C319.3,462.4 323.3,463.4 328,464.5 C332.7,465.6 340.5,467.4 343,468" fill="none" stroke="#e9783a" stroke-width="1.9" stroke-linecap="round"/>
<path d="M57.5,497.5 C60.4,496.2 67.9,492.9 75,490 C82.1,487.1 91.7,483.1 100,480 C108.3,476.9 116.7,474.0 125,471.25 C133.3,468.5 141.7,466.0 150,463.75 C158.3,461.5 168.3,458.9 175,457.5 C181.7,456.1 185.0,455.8 190,455.5 C195.0,455.2 199.2,455.0 205,455.5 C210.8,456.0 217.5,457.0 225,458.75 C232.5,460.5 243.3,464.2 250,466.25 C256.7,468.3 258.3,468.7 265,471 C271.7,473.3 281.7,476.8 290,480 C298.3,483.2 306.2,486.5 315,490 C323.8,493.5 338.3,499.2 343,501" fill="none" stroke="#1f2a86" stroke-width="1.9" stroke-linecap="round"/>
<g font-family="Liberation Sans, sans-serif" font-weight="bold" fill="#1a1a1a">
<text x="8" y="439.9" font-size="5.4">0,65</text>
<text x="8" y="457.4" font-size="5.4">0,60</text>
<text x="8" y="475.09999999999997" font-size="5.4">0,55</text>
<text x="8" y="492.7" font-size="5.4">0,50</text>
<text x="8" y="510.4" font-size="5.4">0,45</text>
<text x="8" y="527.9" font-size="5.4">0,40</text>
<text x="8" y="545.6" font-size="5.4">0,35</text>
<text x="8" y="563.1999999999999" font-size="5.4">0,30</text>
<text x="8" y="580.2" font-size="5.4">0,25</text>
<text transform="translate(4.3,459) rotate(-90)" font-size="5.2">Friction µ</text>
<text x="24.9" y="588.3" font-size="5.65">Applications</text>
<text x="33.3" y="596.2" font-size="6.5">Ville</text><text x="33.3" y="601.6" font-size="6.5" font-weight="normal">City</text><text x="49.3" y="599" font-size="6.8">(50km/h)</text>
<text x="103.3" y="596.2" font-size="6.5">Route</text><text x="103.3" y="601.6" font-size="6.5" font-weight="normal">Street</text><text x="123.8" y="599" font-size="6.8">(90km/h)</text>
<text x="169.3" y="596.2" font-size="6.5">Autoroute</text><text x="169.3" y="601.6" font-size="6.5" font-weight="normal">Highway</text><text x="202" y="599" font-size="6.8">(130km/h)</text>
<text x="244.5" y="599" font-size="6.8">Circuit (180km/h)</text>
<text x="319.5" y="599" font-size="6.8">Racing (250km/h)</text>
</g>
<g font-family="Liberation Sans, sans-serif" font-weight="bold" fill="#fff" font-size="5.4">
<rect x="345" y="462.4" width="15.8" height="8.3" fill="#e9783a"/><text x="348" y="468.5">C59</text>
<rect x="345" y="496" width="17.6" height="8.5" fill="#1f2a86"/><text x="346.8" y="502.2">XBK5</text>
<rect x="345" y="522.4" width="12.6" height="7.6" fill="#2f9e6e"/><text x="346.6" y="528.2">A3+</text>
<rect x="345" y="532.5" width="27.4" height="12" fill="#3fb2cf"/><text x="347" y="538.2" fill="#bfeaf6">ORIGINE</text><text x="347" y="543.3" fill="#bfeaf6">GENUINE</text>
<rect x="345" y="550" width="10.8" height="8" fill="#d6369a"/><text x="346.9" y="556">S4</text>
<rect x="345" y="559.6" width="37.2" height="12" fill="#f3b26c"/><text x="347" y="565.2" fill="#fde6c8">ORGANIQUE</text><text x="347" y="570.4" fill="#fde6c8">ORGANIC</text>
</g>
</svg>
<svg class="abs" style="left:400px;top:380px" width="400" height="260" viewBox="400 380 400 260">
<rect x="448.5" y="396.2" width="351.5" height="83.3" fill="#a2cddc"/>
<line x1="448.5" x2="800" y1="413.2" y2="413.2" stroke="#e1f4fa" stroke-width="1.45"/>
<line x1="448.5" x2="800" y1="429" y2="429" stroke="#e1f4fa" stroke-width="1.45"/>
<line x1="448.5" x2="800" y1="444.8" y2="444.8" stroke="#e1f4fa" stroke-width="1.45"/>
<line x1="448.5" x2="800" y1="460.5" y2="460.5" stroke="#e1f4fa" stroke-width="1.45"/>
<line x1="448.5" x2="800" y1="476.2" y2="476.2" stroke="#e1f4fa" stroke-width="1.45"/>
<line x1="565.5" x2="565.5" y1="396.2" y2="479.5" stroke="#e1f4fa" stroke-width="1.45"/>
<line x1="682.5" x2="682.5" y1="396.2" y2="479.5" stroke="#e1f4fa" stroke-width="1.45"/>
<path d="M507.5,461 C509.4,460.2 513.8,458.4 518.75,456.25 C523.8,454.1 531.2,450.5 537.5,447.8 C543.8,445.1 550.0,442.5 556.25,440.3 C562.5,438.1 568.8,436.2 575,434.7 C581.2,433.1 587.5,432.0 593.75,431 C600.0,430.0 606.9,429.2 612.5,428.7 C618.1,428.2 621.2,427.8 627.5,428.1 C633.8,428.4 642.1,429.2 650,430.6 C657.9,432.0 666.7,433.9 675,436.25 C683.3,438.6 691.7,441.5 700,444.5 C708.3,447.5 718.3,451.9 725,454.5 C731.7,457.1 737.5,459.1 740,460" fill="none" stroke="#5a8593" stroke-width="1.9" stroke-linecap="round"/>
<path d="M506.5,428.7 C508.5,428.2 513.6,426.8 518.75,425.5 C523.9,424.2 531.2,422.4 537.5,421 C543.8,419.6 550.0,418.3 556.25,417 C562.5,415.7 568.8,414.4 575,413.4 C581.2,412.3 588.6,411.3 593.75,410.7 C598.9,410.1 601.3,409.9 606,410 C610.7,410.1 616.1,410.4 621.9,411.4 C627.7,412.4 635.9,414.7 640.6,415.9 C645.3,417.1 644.3,416.6 650,418.75 C655.7,420.9 666.7,425.0 675,428.75 C683.3,432.5 691.7,437.1 700,441.25 C708.3,445.4 718.3,450.6 725,453.75 C731.7,456.9 737.5,459.0 740,460" fill="none" stroke="#173640" stroke-width="2" stroke-linecap="round"/>
<g font-family="Liberation Sans, sans-serif" font-weight="bold" fill="#fff" font-size="7">
<rect x="478.3" y="418.7" width="24.7" height="13.8" fill="#1d3540"/><text x="482.8" y="428.2">MSC</text>
<rect x="478.3" y="448" width="24.7" height="13.8" fill="#5f8591"/><text x="485.8" y="457.5">SC</text>
</g>
<g font-family="Liberation Sans, sans-serif" fill="#1a1a1a" stroke="#1a1a1a" stroke-width="0.22">
<text x="433" y="399.0" font-size="6.6">0,70</text>
<text x="433" y="415.2" font-size="6.6">0,65</text>
<text x="433" y="431.2" font-size="6.6">0,60</text>
<text x="433" y="446.9" font-size="6.6">0,55</text>
<text x="433" y="462.5" font-size="6.6">0,50</text>
<text x="433" y="478.2" font-size="6.6">0,45</text>
<text transform="translate(429.3,419) rotate(-90)" font-size="5.6" font-weight="bold">Friction µ</text>
<g font-weight="bold">
<text x="453.2" y="485.9" font-size="6">Applications</text>
<text x="480.7" y="493.8" font-size="7.5">Ville</text><text x="480.7" y="500.3" font-size="7.5" font-weight="normal">City</text><text x="498.8" y="497.9" font-size="8.05">(50km/h)</text>
<text x="595" y="493.8" font-size="7.5">Route</text><text x="595" y="500.3" font-size="7.5" font-weight="normal">Street</text><text x="620.3" y="497.9" font-size="8.05">(90km/h)</text>
<text x="703" y="493.8" font-size="7.5">Autoroute</text><text x="703" y="500.3" font-size="7.5" font-weight="normal">Highway</text><text x="742" y="497.9" font-size="8.05">(130km/h)</text>
</g></g>
<rect x="448.5" y="520" width="344.8" height="88.3" fill="#a2cddc"/>
<line x1="448.5" x2="793.3" y1="534.9" y2="534.9" stroke="#e1f4fa" stroke-width="1.8"/>
<line x1="448.5" x2="793.3" y1="551.3" y2="551.3" stroke="#e1f4fa" stroke-width="1.8"/>
<line x1="448.5" x2="793.3" y1="567.8" y2="567.8" stroke="#e1f4fa" stroke-width="1.8"/>
<line x1="448.5" x2="793.3" y1="584.2" y2="584.2" stroke="#e1f4fa" stroke-width="1.8"/>
<line x1="448.5" x2="793.3" y1="600.7" y2="600.7" stroke="#e1f4fa" stroke-width="1.8"/>
<rect x="448.5" y="601.6" width="344.8" height="6.7" fill="#90c4cc"/>
<line x1="451" y1="538" x2="792" y2="565.75" stroke="#72b944" stroke-width="2"/>
<line x1="451" y1="577.75" x2="792" y2="558.25" stroke="#3f9a3c" stroke-width="2"/>
<line x1="451" y1="593.75" x2="792" y2="588.25" stroke="#0b4a36" stroke-width="2.2"/>
<line x1="448.80" x2="448.80" y1="600" y2="609.5" stroke="#1f2a2e" stroke-width="1.15"/>
<line x1="466.05" x2="466.05" y1="600" y2="609.5" stroke="#1f2a2e" stroke-width="1.15"/>
<line x1="483.30" x2="483.30" y1="600" y2="609.5" stroke="#1f2a2e" stroke-width="1.15"/>
<line x1="500.55" x2="500.55" y1="600" y2="609.5" stroke="#1f2a2e" stroke-width="1.15"/>
<line x1="517.80" x2="517.80" y1="600" y2="609.5" stroke="#1f2a2e" stroke-width="1.15"/>
<line x1="535.05" x2="535.05" y1="600" y2="609.5" stroke="#1f2a2e" stroke-width="1.15"/>
<line x1="552.30" x2="552.30" y1="600" y2="609.5" stroke="#1f2a2e" stroke-width="1.15"/>
<line x1="569.55" x2="569.55" y1="600" y2="609.5" stroke="#1f2a2e" stroke-width="1.15"/>
<line x1="586.80" x2="586.80" y1="600" y2="609.5" stroke="#1f2a2e" stroke-width="1.15"/>
<line x1="604.05" x2="604.05" y1="600" y2="609.5" stroke="#1f2a2e" stroke-width="1.15"/>
<line x1="621.30" x2="621.30" y1="600" y2="609.5" stroke="#1f2a2e" stroke-width="1.15"/>
<line x1="638.55" x2="638.55" y1="600" y2="609.5" stroke="#1f2a2e" stroke-width="1.15"/>
<line x1="655.80" x2="655.80" y1="600" y2="609.5" stroke="#1f2a2e" stroke-width="1.15"/>
<line x1="673.05" x2="673.05" y1="600" y2="609.5" stroke="#1f2a2e" stroke-width="1.15"/>
<line x1="690.30" x2="690.30" y1="600" y2="609.5" stroke="#1f2a2e" stroke-width="1.15"/>
<line x1="707.55" x2="707.55" y1="600" y2="609.5" stroke="#1f2a2e" stroke-width="1.15"/>
<line x1="724.80" x2="724.80" y1="600" y2="609.5" stroke="#1f2a2e" stroke-width="1.15"/>
<line x1="742.05" x2="742.05" y1="600" y2="609.5" stroke="#1f2a2e" stroke-width="1.15"/>
<line x1="759.30" x2="759.30" y1="600" y2="609.5" stroke="#1f2a2e" stroke-width="1.15"/>
<line x1="776.55" x2="776.55" y1="600" y2="609.5" stroke="#1f2a2e" stroke-width="1.15"/>
<line x1="793.80" x2="793.80" y1="600" y2="609.5" stroke="#1f2a2e" stroke-width="1.15"/>
<g font-family="Liberation Sans, sans-serif" fill="#1a1a1a" stroke="#1a1a1a" stroke-width="0.22">
<g font-size="7.1" text-anchor="middle">
<text x="448.80" y="617">0</text><text x="466.05" y="617">5</text><text x="483.30" y="617">10</text><text x="500.55" y="617">20</text><text x="517.80" y="617">15</text><text x="535.05" y="617">25</text><text x="552.30" y="617">30</text><text x="569.55" y="617">35</text><text x="586.80" y="617">40</text><text x="604.05" y="617">45</text><text x="621.30" y="617">50</text><text x="638.55" y="617">55</text><text x="655.80" y="617">60</text><text x="673.05" y="617">65</text><text x="690.30" y="617">70</text><text x="707.55" y="617">75</text><text x="724.80" y="617">80</text><text x="742.05" y="617">85</text><text x="759.30" y="617">90</text><text x="776.55" y="617">95</text><text x="792.30" y="617">100</text>
</g>
<text x="433" y="522.6" font-size="6.6">0,60</text>
<text x="433" y="539.4" font-size="6.6">0,56</text>
<text x="433" y="556.2" font-size="6.6">0,52</text>
<text x="433" y="573.1" font-size="6.6">0,48</text>
<text x="433" y="589.9" font-size="6.6">0,44</text>
<text x="433" y="606.8" font-size="6.6">0,40</text>
<text transform="translate(429,544.5) rotate(-90)" font-size="5.9" font-weight="bold">Friction µ</text>
<text x="447.3" y="627.6" font-size="7.6" font-weight="bold" stroke="none">Freinage linéaire</text>
</g>
<g font-family="Liberation Sans, sans-serif" font-weight="bold" fill="#fff" font-size="7">
<rect x="764.5" y="544.5" width="21.8" height="10.6" fill="#4a9e3a"/><text x="766.7" y="552.4">EN10</text>
<rect x="764.5" y="568.7" width="21.8" height="10.6" fill="#86c540"/><text x="766.2" y="576.6">MX10</text>
<rect x="764.5" y="593" width="21.8" height="10.8" fill="#0b4a34"/><text x="769.2" y="601">X59</text>
</g>
</svg>
<div class="abs" style="left:0;top:388.2px;width:176px;height:21.2px;background:#58585a;color:#fff;font:bold 11.85px/22.2px 'Liberation Sans',sans-serif;"><span style="position:absolute;left:6px;top:0;white-space:nowrap">Résultats des bancs d'essais</span></div>
<div class="abs bn" style="left:23.1px;top:428.6px;width:103.2px;height:17px;"><span style="left:6.6px;letter-spacing:0.06px">Plaquettes route</span></div>
<div class="abs bn" style="left:448px;top:387.5px;width:112px;height:17px;"><span>Plaquettes scooter</span></div>
<div class="abs bn" style="left:448px;top:512px;width:135px;height:17.3px;"><span>Plaquettes tout-terrain</span></div>
</body>
</html>
